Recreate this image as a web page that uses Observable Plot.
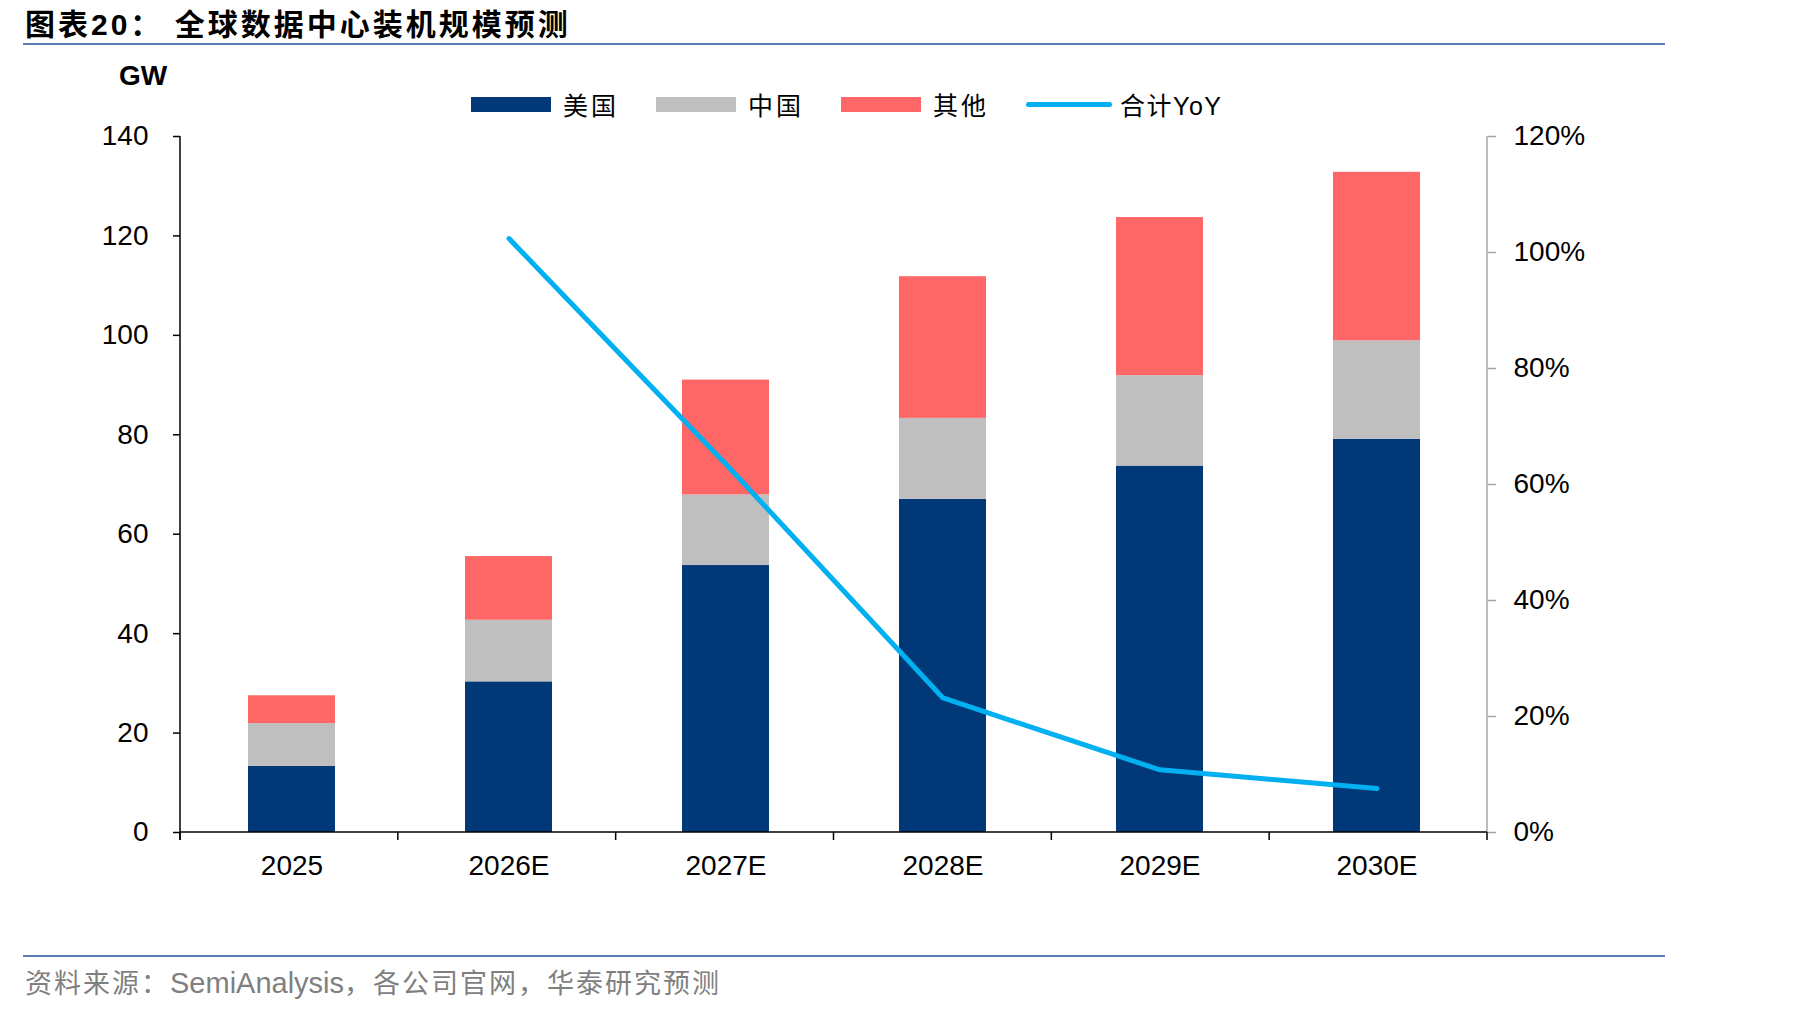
<!DOCTYPE html>
<html><head><meta charset="utf-8">
<script src="https://cdn.jsdelivr.net/npm/d3@7"></script>
<script src="https://cdn.jsdelivr.net/npm/@observablehq/plot@0.6"></script>
<style>
body{margin:0;background:#fff;}
#wrap{position:relative;width:1819px;height:1011px;overflow:hidden;background:#fff;}
.abs{position:absolute;white-space:nowrap;}
#chart{left:0;top:0;z-index:1;}
.title{left:25px;top:0px;font-family:"Liberation Sans","Noto Sans CJK SC";font-weight:700;font-size:30px;letter-spacing:3px;color:#000;z-index:2;}
.rule{left:23px;width:1642px;height:2px;background:#5a7fb8;z-index:2;}
.unit{left:119px;top:60px;font-family:"Liberation Sans",Arial;font-weight:700;font-size:28px;color:#000;z-index:2;}
.legend{left:471px;top:88px;height:32px;display:flex;align-items:center;font-family:"Liberation Sans","Noto Sans CJK SC";font-size:25px;letter-spacing:3px;color:#000;z-index:2;}
.legend .item{display:flex;align-items:center;margin-right:37px;}
.legend .sw{width:80px;height:15px;margin-right:12px;}
.legend .ln{width:86px;height:5px;border-radius:3px;margin-right:8px;}
.legend .yoy{letter-spacing:1.5px;}
.source{left:25px;top:962px;font-family:"Noto Sans CJK SC";font-size:27px;letter-spacing:2px;color:#7f7f7f;z-index:2;}
.source .lat{font-family:"Liberation Sans",Arial;font-size:29px;letter-spacing:0;}
</style></head><body>
<div id="wrap">
  <div id="chart" class="abs"></div>
  <div class="abs title">图表20：&nbsp;全球数据中心装机规模预测</div>
  <div class="abs rule" style="top:43px"></div>
  <div class="abs unit">GW</div>
  <div class="abs legend" id="legend"></div>
  <div class="abs rule" style="top:955px"></div>
  <div class="abs source">资料来源：<span class="lat">SemiAnalysis</span>，各公司官网，华泰研究预测</div>
</div>
<script>
const categories = ["2025", "2026E", "2027E", "2028E", "2029E", "2030E"];
const seriesNames = ["美国", "中国", "其他"];
const seriesColors = ["#003878", "#bfbfbf", "#ff6666"];
const usValues = [13.3, 30.3, 53.7, 67.0, 73.7, 79.1];
const chinaValues = [8.6, 12.4, 14.2, 16.3, 18.2, 19.8];
const otherValues = [5.6, 12.8, 23.1, 28.5, 31.8, 33.9];
const yoyName = "合计YoY";
const yoyColor = "#00b0f0";
const yoyValues = [null, 1.024, 0.635, 0.232, 0.108, 0.076];
const leftTicks = [0, 20, 40, 60, 80, 100, 120, 140];
const rightTicks = [0, 0.2, 0.4, 0.6, 0.8, 1.0, 1.2];

const leftMax = 140, rightMax = 1.2;
const k = leftMax / rightMax;

const seriesValues = [usValues, chinaValues, otherValues];
const barRows = [];
seriesNames.forEach((s, si) => categories.forEach((c, ci) => barRows.push({cat: c, series: s, value: seriesValues[si][ci]})));
const lineRows = categories.map((c, i) => ({cat: c, yoy: yoyValues[i]})).filter(d => d.yoy != null);

function frameLines(index, scales, values, dims) {
  const {width, height, marginLeft, marginRight, marginTop, marginBottom} = dims;
  const x0 = marginLeft, x1 = width - marginRight, y0 = height - marginBottom, yt = marginTop;
  const g = d3.create("svg:g").attr("fill", "none");
  g.append("line").attr("x1", x1).attr("x2", x1).attr("y1", yt).attr("y2", y0).attr("stroke", "#a6a6a6").attr("stroke-width", 1.5);
  g.append("line").attr("x1", x0).attr("x2", x0).attr("y1", yt).attr("y2", y0 + 8).attr("stroke", "#000").attr("stroke-width", 1.5);
  g.append("line").attr("x1", x0).attr("x2", x1).attr("y1", y0).attr("y2", y0).attr("stroke", "#000").attr("stroke-width", 1.5);
  const step = (x1 - x0) / categories.length;
  for (let i = 0; i <= categories.length; i++) {
    g.append("line").attr("x1", x0 + i * step).attr("x2", x0 + i * step).attr("y1", y0).attr("y2", y0 + 8).attr("stroke", "#000").attr("stroke-width", 1.5);
  }
  return g.node();
}

const chart = Plot.plot({
  width: 1819,
  height: 1011,
  marginLeft: 180,
  marginRight: 332,
  marginTop: 136,
  marginBottom: 179,
  style: {fontFamily: "'Liberation Sans', Arial, sans-serif", fontSize: "28px", color: "#000", background: "transparent"},
  x: {domain: categories, paddingInner: 0.6, paddingOuter: 0.3},
  y: {domain: [0, leftMax]},
  color: {domain: seriesNames, range: seriesColors},
  marks: [
    Plot.barY(barRows, {x: "cat", y: "value", fill: "series"}),
    Plot.line(lineRows, {x: "cat", y: d => d.yoy * k, stroke: yoyColor, strokeWidth: 5, strokeLinecap: "round", strokeLinejoin: "round"}),
    frameLines,
    Plot.axisY({ticks: leftTicks, tickSize: 7, tickPadding: 25, label: null, stroke: "#000", strokeWidth: 1.5}),
    Plot.axisY({anchor: "right", ticks: rightTicks.map(v => v * k), tickFormat: d => Math.round(d / k * 100) + "%", tickSize: 8, tickPadding: 18, label: null, stroke: "#a6a6a6", strokeWidth: 1.5}),
    Plot.axisX({tickSize: 0, tickPadding: 23, label: null})
  ]
});
document.getElementById("chart").appendChild(chart);

const legend = document.getElementById("legend");
seriesNames.forEach((s, i) => {
  const it = document.createElement("div"); it.className = "item";
  it.innerHTML = `<div class="sw" style="background:${seriesColors[i]}"></div><span>${s}</span>`;
  legend.appendChild(it);
});
const li = document.createElement("div"); li.className = "item";
li.innerHTML = `<div class="ln" style="background:${yoyColor}"></div><span class="yoy">${yoyName}</span>`;
legend.appendChild(li);
</script>
</body></html>
